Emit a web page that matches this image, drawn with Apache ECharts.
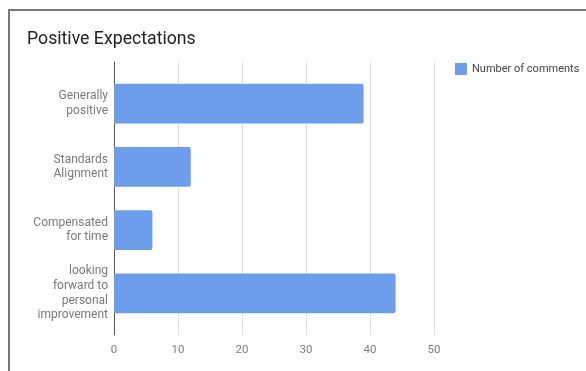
<!DOCTYPE html>
<html>
<head>
<meta charset="utf-8">
<script src="https://cdn.jsdelivr.net/npm/echarts@6/dist/echarts.min.js"></script>
<style>
html,body{margin:0;padding:0;background:#fff;}
#frame{position:absolute;left:8px;top:9px;width:600px;height:400px;border-left:2px solid #777;border-top:2px solid #777;}
#chart{position:absolute;left:0;top:0;width:586px;height:371px;}
</style>
</head>
<body>
<div id="frame"></div>
<div id="chart"></div>
<script>
const categories = ["Generally\npositive", "Standards\nAlignment", "Compensated\nfor time", "looking\nforward to\npersonal\nimprovement"];
const values = [39, 12, 6, 44];
const seriesName = "Number of comments";
const titleText = "Positive Expectations";

const chart = echarts.init(document.getElementById('chart'), null, {renderer: 'canvas'});
const font = 'Roboto';
chart.setOption({
  animation: false,
  backgroundColor: 'transparent',
  title: {
    text: titleText, left: 22, top: 26,
    textStyle: {fontFamily: font, fontSize: 17.7, fontWeight: 'normal', color: '#222'}
  },
  legend: {
    data: [seriesName], left: 450, top: 58, itemWidth: 12, itemHeight: 12,
    icon: 'rect',
    textStyle: {fontFamily: font, fontSize: 11, color: '#444'}
  },
  grid: [
    {left: 114, right: 152, top: 62, bottom: 36},
    {left: 114, right: 152, top: 72, bottom: 46}
  ],
  xAxis: [
    {gridIndex: 0, type: 'value', min: 0, max: 50, interval: 10,
     axisLine: {show: false}, axisTick: {show: false},
     splitLine: {lineStyle: {color: '#e0e0e0', width: 1}},
     axisLabel: {fontFamily: font, fontSize: 11.5, color: '#808080', margin: 9}},
    {gridIndex: 1, type: 'value', min: 0, max: 50, interval: 10, show: false,
     splitLine: {show: false}}
  ],
  yAxis: [
    {gridIndex: 0, type: 'category', data: [''],
     axisLine: {show: true, lineStyle: {color: '#555', width: 1}},
     axisTick: {show: false}, axisLabel: {show: false}, splitLine: {show: false}},
    {gridIndex: 1, type: 'category', data: categories, inverse: true,
     axisLine: {show: false}, axisTick: {show: false},
     axisLabel: {fontFamily: font, fontSize: 12, color: '#7a7a7a', lineHeight: 14.6, margin: 6, align: 'right'}}
  ],
  series: [{
    name: seriesName, type: 'bar', xAxisIndex: 1, yAxisIndex: 1,
    data: values, barCategoryGap: '37%',
    itemStyle: {color: '#6d9eeb', borderRadius: [0, 2, 2, 0]}
  }]
});
</script>
</body>
</html>
